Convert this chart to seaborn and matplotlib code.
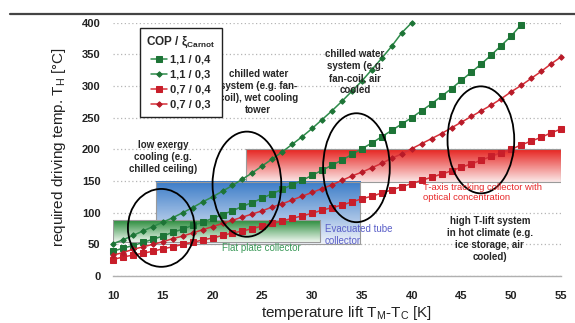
# required driving temperature vs temperature lift for sorption chillers
# with the collector types overlaid as shaded bands

import numpy as np
import pandas as pd
import seaborn as sns
import matplotlib.pyplot as plt
from matplotlib.colors import LinearSegmentedColormap
from matplotlib.patches import Ellipse, Rectangle
from matplotlib.lines import Line2D

# temperature lift T_M - T_C [K], one point per kelvin
lift = list(range(10, 56))

# required driving temperature T_H [degC]
th_11_04 = [39, 44, 48, 53, 58, 63, 69, 74, 80, 85, 91, 97, 103, 110, 116, 123, 130, 137, 144, 151,
            159, 167, 175, 183, 192, 201, 210, 220, 230, 240, 250, 261, 272, 284, 296, 309, 322, 335,
            349, 364, 379, 397]
th_11_03 = [51, 57, 64, 71, 78, 85, 92, 100, 108, 117, 125, 134, 143, 153, 163, 174, 185, 196, 208,
            220, 233, 247, 261, 276, 292, 308, 326, 344, 363, 384, 400]
th_07_04 = [26, 30, 33, 36, 39, 43, 46, 50, 53, 57, 60, 64, 68, 71, 75, 79, 83, 87, 91, 95, 99, 104,
            108, 112, 117, 122, 126, 131, 136, 141, 146, 151, 156, 161, 166, 172, 177, 183, 189, 195,
            200, 207, 213, 219, 226, 232]
th_07_03 = [33, 37, 42, 46, 50, 54, 59, 63, 68, 73, 78, 83, 88, 93, 98, 103, 109, 114, 120, 126, 132,
            138, 144, 151, 158, 164, 171, 178, 186, 193, 201, 209, 217, 225, 234, 243, 252, 261, 270,
            280, 291, 301, 312, 323, 335, 346]

series_labels = ['1,1 / 0,4', '1,1 / 0,3', '0,7 / 0,4', '0,7 / 0,3']
series_values = [th_11_04, th_11_03, th_07_04, th_07_03]

y_ticks = [0, 50, 100, 150, 200, 250, 300, 350, 400]
x_ticks = [10, 15, 20, 25, 30, 35, 40, 45, 50, 55]

# long form table for seaborn
rows = []
for lab, vals in zip(series_labels, series_values):
    for x, y in zip(lift, vals):
        rows.append({'lift': x, 'temp': y, 'series': lab})
df = pd.DataFrame(rows)

sns.set_style('white')
plt.rcParams['font.family'] = ['Liberation Sans', 'DejaVu Sans']
plt.rcParams['mathtext.fontset'] = 'custom'
plt.rcParams['mathtext.rm'] = 'Liberation Sans'
plt.rcParams['mathtext.bf'] = 'Liberation Sans:bold'
plt.rcParams['mathtext.default'] = 'regular'

fig = plt.figure(figsize=(5.75, 3.23), dpi=100)
ax = fig.add_axes([0.1965, 0.1455, 0.7792, 0.7842])

# collector bands (x0, x1, y0, y1, top colour, bottom colour)
def band(x0, x1, y0, y1, top, bottom, z):
    cmap = LinearSegmentedColormap.from_list('', [bottom, top])
    grad = np.linspace(0, 1, 100)[:, None]
    ax.imshow(grad, extent=(x0, x1, y0, y1), origin='lower', cmap=cmap,
              aspect='auto', zorder=z, interpolation='bilinear')
    ax.add_patch(Rectangle((x0, y0), x1 - x0, y1 - y0, fill=False,
                           ec='#9a9a9a', lw=0.8, zorder=z + 0.05))

band(23.4, 55, 149, 200, '#e62420', '#fbe8e8', 1.0)
band(14.3, 34.8, 51, 149, '#3b7cc8', '#f0f3fa', 1.1)
band(10, 30.8, 54, 88, '#2a8c3c', '#eef6ee', 1.2)

styles = {
    '1,1 / 0,4': dict(color='#2e8b4a', marker='s', markersize=4.2, mfc='#1d7436', mec='#1d7436'),
    '1,1 / 0,3': dict(color='#2e8b4a', marker='D', markersize=2.8, mfc='#1d7436', mec='#1d7436'),
    '0,7 / 0,4': dict(color='#d63038', marker='s', markersize=4.2, mfc='#c81e2a', mec='#c81e2a'),
    '0,7 / 0,3': dict(color='#d63038', marker='D', markersize=2.8, mfc='#b81a28', mec='#b81a28'),
}
for lab in series_labels:
    sub = df[df.series == lab]
    sns.lineplot(data=sub, x='lift', y='temp', ax=ax, label=lab, lw=1.1,
                 zorder=3, clip_on=False, **styles[lab])

# application ellipses (centre x, centre y, width, height)
for cx, cy, w, h in [(14.85, 76, 6.7, 123), (23.45, 145, 6.9, 166),
                     (34.45, 171, 6.7, 172), (46.95, 215, 6.7, 169)]:
    ax.add_patch(Ellipse((cx, cy), w, h, fill=False, ec='black', lw=1.3, zorder=4))

txt = dict(ha='center', va='center', fontsize=7, fontweight='bold', linespacing=1.25, zorder=5)
ax.text(15.0, 188, 'low exergy\ncooling (e.g.\nchilled ceiling)', **txt)
ax.text(24.6, 290, 'chilled water\nsystem (e.g. fan-\ncoil), wet cooling\ntower', **txt)
ax.text(34.3, 322, 'chilled water\nsystem (e.g.\nfan-coil, air\ncooled', **txt)
ax.text(47.85, 58, 'high T-lift system\nin hot climate (e.g.\nice storage, air\ncooled)', **txt)

ax.text(41.1, 132, 'T-axis tracking collector with\noptical concentration', color='#e8282a',
        fontsize=6.8, ha='left', va='center', linespacing=1.25, zorder=5)
ax.text(31.3, 65, 'Evacuated tube\ncollector', color='#5a5fc8',
        fontsize=7, ha='left', va='center', linespacing=1.2, zorder=5)
ax.text(20.9, 44, 'Flat plate collector', color='#3c9a5a',
        fontsize=7, ha='left', va='center', zorder=5)

ax.set_xlim(10, 55)
ax.set_ylim(0, 400)
ax.set_xticks(x_ticks)
ax.set_yticks(y_ticks)
ax.yaxis.grid(True, linestyle=(0, (1, 2)), color='#b5b5b5', lw=0.9, zorder=0.5)
ax.set_axisbelow(True)

for s in ['top', 'right', 'left']:
    ax.spines[s].set_visible(False)
ax.spines['bottom'].set_color('#b0b0b0')
ax.spines['bottom'].set_linewidth(1.0)
ax.tick_params(axis='x', length=3, color='#b0b0b0', pad=8, labelsize=8)
ax.tick_params(axis='y', length=0, pad=9, labelsize=8)
for t in ax.get_xticklabels() + ax.get_yticklabels():
    t.set_fontweight('bold')
    t.set_color('#222222')

ax.set_xlabel('temperature lift T$_{M}$-T$_{C}$ [K]', fontsize=11, color='#222222')
ax.set_ylabel('required driving temp. T$_{H}$ [°C]', fontsize=11, color='#222222')
ax.xaxis.set_label_coords(0.522, -0.11)
ax.yaxis.set_label_coords(-0.1, 0.51)

leg = ax.legend(title='COP / ξ$_{\\mathbf{Carnot}}$', loc='upper left',
                bbox_to_anchor=(0.047, 1.0), frameon=True, fancybox=False,
                edgecolor='#222222', framealpha=1, borderpad=0.6, labelspacing=0.45,
                handlelength=1.4, handletextpad=0.3, prop={'weight': 'bold', 'size': 8},
                title_fontproperties={'weight': 'bold', 'size': 8.5})
leg.get_frame().set_linewidth(1.0)
leg.set_zorder(6)

# thin rule across the top of the figure
fig.add_artist(Line2D([10 / 575, 1], [1 - 13.5 / 323] * 2, color='#444444', lw=1.6))

fig.savefig('out.png', dpi=100)
